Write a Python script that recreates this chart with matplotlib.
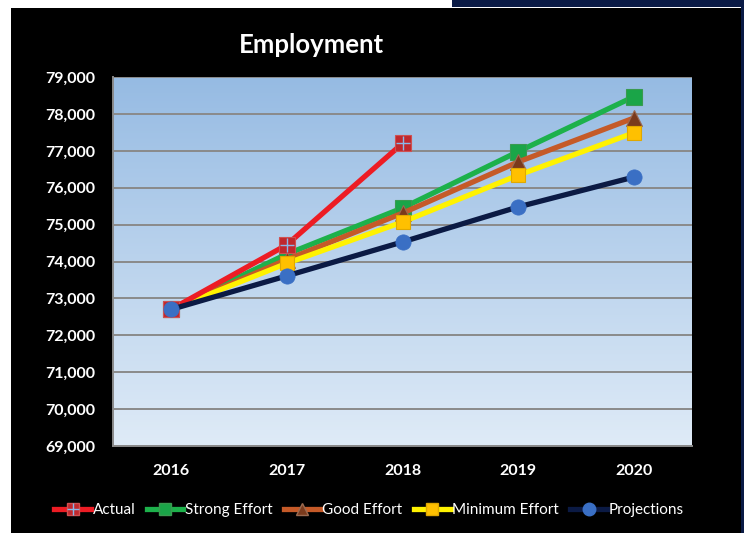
import matplotlib
matplotlib.use("Agg")
import matplotlib.pyplot as plt
import numpy as np
from matplotlib.patches import Rectangle
from matplotlib.lines import Line2D

plt.rcParams['font.family'] = ['Lato', 'DejaVu Sans']

years = ["2016", "2017", "2018", "2019", "2020"]
actual = [72700, 74450, 77200]
strong = [72700, 74200, 75450, 76980, 78470]
good = [72700, 74050, 75310, 76700, 77890]
minimum = [72700, 73950, 75070, 76340, 77490]
projections = [72700, 73610, 74530, 75480, 76290]
yticks = [69000, 70000, 71000, 72000, 73000, 74000, 75000, 76000, 77000, 78000, 79000]

W, H = 744, 533
fig = plt.figure(figsize=(W/100, H/100), dpi=100)
fig.patch.set_facecolor('white')

# panel background
fig.add_artist(Rectangle((11/W, 0), (741-11)/W, (H-8)/H, transform=fig.transFigure,
                         facecolor='black', edgecolor='none', zorder=0))
fig.add_artist(Rectangle((452/W, (H-7)/H), (W-452)/W, 7/H, transform=fig.transFigure,
                         facecolor='#0a1a45', edgecolor='none', zorder=0))
fig.add_artist(Rectangle((741/W, 0), 3/W, 1, transform=fig.transFigure,
                         facecolor='#0a1a45', edgecolor='none', zorder=0))

ax = fig.add_axes([113/W, (H-446)/H, (692-113)/W, (446-77)/H])
ax.set_facecolor('none')
x = np.arange(len(years))
ax.set_xlim(-0.5, 4.5)
ax.set_ylim(69000, 79000)

# gradient background
top = np.array(matplotlib.colors.to_rgb('#96bbe3'))
bot = np.array(matplotlib.colors.to_rgb('#dfebf7'))
t = np.linspace(0, 1, 256)[:, None]
grad = (top[None, :] * (1 - t) + bot[None, :] * t)[:, None, :]
ax.imshow(grad, extent=[0, 1, 0, 1], transform=ax.transAxes, aspect='auto', zorder=0)

ax.set_yticks(yticks)
ax.set_yticklabels([f"{v:,}" for v in yticks])
ax.set_xticks(x)
ax.set_xticklabels(years)
ax.grid(axis='y', color='#8a8a8a', linewidth=1.4, zorder=1)
ax.set_axisbelow(True)
for s in ['top', 'right']:
    ax.spines[s].set_visible(False)
for s in ['left', 'bottom']:
    ax.spines[s].set_color('#8a8a8a')
    ax.spines[s].set_linewidth(1.4)
ax.tick_params(axis='both', length=0, colors='white', labelsize=11.5)
ax.tick_params(axis='y', pad=13)
ax.tick_params(axis='x', pad=13)
for lab in ax.get_xticklabels() + ax.get_yticklabels():
    lab.set_fontweight('bold')

lw = 3.8
ax.plot(x, strong, color='#1db14b', lw=lw, marker='s', ms=11,
        mfc='#1aa548', mec='#3a9a50', mew=0.8, zorder=3)
ax.plot(x, good, color='#c55a28', lw=lw, marker='^', ms=11,
        mfc='#7a3a1c', mec='#9a6a50', mew=0.8, zorder=4)
ax.plot(x, minimum, color='#fff200', lw=lw, marker='s', ms=10.5,
        mfc='#ffc000', mec='#e0a800', mew=0.8, zorder=5)
ax.plot(x[:len(actual)], actual, color='#ed1c24', lw=lw, zorder=6)
ax.plot(x[:len(actual)], actual, ls='none', marker='s', ms=11, mfc='#c0282d', mec='#d05050', mew=0.8, zorder=6)
ax.plot(x[:len(actual)], actual, ls='none', marker='+', ms=10, mec='#8ab8e8', mew=1.0, zorder=6.5)
ax.plot(x, projections, color='#0b1a44', lw=lw, marker='o', ms=11,
        mfc='#3a6fc4', mec='#3a6fc4', mew=0.5, zorder=7)

fig.text(311/W, 1 - 45/H, "Employment", color='white', fontsize=18.5, fontweight='bold',
         ha='center', va='center')

# legend handles
h_actual = (Line2D([], [], color='#ed1c24', lw=lw),
            Line2D([], [], ls='none', marker='s', ms=9, mfc='#c0282d', mec='#d05050'),
            Line2D([], [], ls='none', marker='+', ms=8, mec='#8ab8e8', mew=1.0))
h_strong = Line2D([], [], color='#1db14b', lw=lw, marker='s', ms=9, mfc='#1aa548', mec='#3a9a50')
h_good = Line2D([], [], color='#c55a28', lw=lw, marker='^', ms=9, mfc='#7a3a1c', mec='#9a6a50')
h_min = Line2D([], [], color='#fff200', lw=lw, marker='s', ms=9, mfc='#ffc000', mec='#e0a800')
h_proj = Line2D([], [], color='#0b1a44', lw=lw, marker='o', ms=9, mfc='#3a6fc4', mec='#3a6fc4')
leg = fig.legend([h_actual, h_strong, h_good, h_min, h_proj],
                 ['Actual', 'Strong Effort', 'Good Effort', 'Minimum Effort', 'Projections'],
                 loc='center', bbox_to_anchor=(369/W, 1 - 510/H), ncol=5, frameon=False,
                 fontsize=11, handlelength=2.4, handletextpad=0.1, columnspacing=0.75,
                 labelcolor='white')

fig.savefig('out.png', dpi=100, facecolor='white')
